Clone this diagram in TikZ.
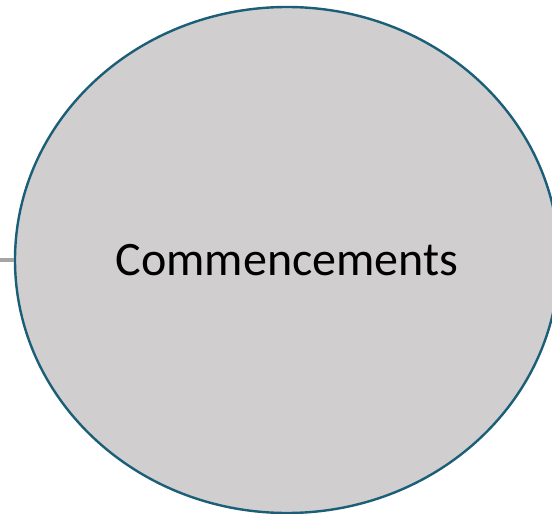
\documentclass[tikz,border=0pt]{standalone}
\usepackage{fontspec}
\setmainfont{Carlito}
\usetikzlibrary{shapes.geometric}

\definecolor{grisfond}{HTML}{D0CECE}
\definecolor{bleubord}{HTML}{1B5E78}
\definecolor{grislien}{HTML}{A5A5A5}

\begin{document}
\begin{tikzpicture}[
    x=1pt, y=-1pt,
    bulle/.style={ellipse, draw=bleubord, fill=grisfond, line width=2.4pt,
        minimum width=544pt, minimum height=506pt, inner sep=0pt,
        font=\fontsize{48}{56}\selectfont},
    lien/.style={draw=grislien, line width=3.2pt},
]

% Cadre
\useasboundingbox (0,0) rectangle (552,514);

% Bulle
\node[bulle] (commencements) at (287,260) {Commencements};

% Lien venant de la gauche
\coordinate (depart) at (0,260);
\draw[lien] (depart) -- (commencements.west);

\end{tikzpicture}
\end{document}
